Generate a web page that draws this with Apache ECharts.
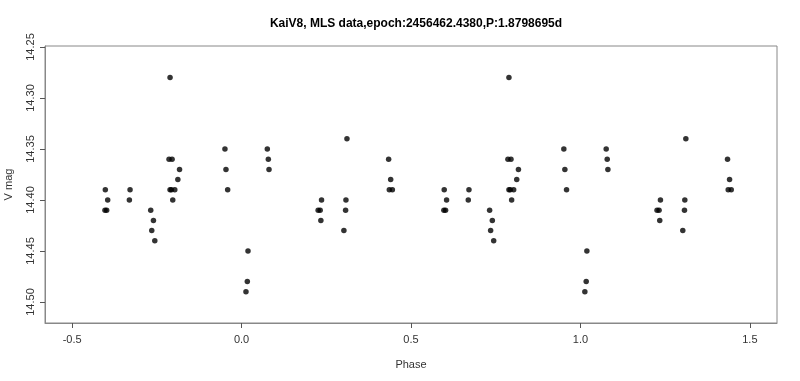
<!DOCTYPE html>
<html>
<head>
<meta charset="utf-8">
<script src="https://cdn.jsdelivr.net/npm/echarts@6/dist/echarts.min.js"></script>
<style>html,body{margin:0;padding:0;background:#fff}#c{width:800px;height:381px}</style>
</head>
<body>
<div id="c"></div>
<script>
var titleText = 'KaiV8, MLS data,epoch:2456462.4380,P:1.8798695d';
var xTicks = [-0.5, 0.0, 0.5, 1.0, 1.5];
var yTicks = [14.25, 14.30, 14.35, 14.40, 14.45, 14.50];

var phase = [
  -0.402, -0.395, -0.403, -0.398, -0.329, -0.331,
  -0.268, -0.260, -0.265, -0.256,
  -0.211, -0.214, -0.205, -0.183, -0.188, -0.211, -0.207, -0.197, -0.203,
  -0.049, -0.046, -0.041,
  0.019, 0.017, 0.013,
  0.076, 0.079, 0.081,
  0.236, 0.226, 0.232, 0.234,
  0.311, 0.308, 0.307, 0.302,
  0.434, 0.440, 0.436, 0.445,
  0.598, 0.605, 0.597, 0.602, 0.671, 0.669,
  0.732, 0.740, 0.735, 0.744,
  0.789, 0.786, 0.795, 0.817, 0.812, 0.789, 0.793, 0.803, 0.797,
  0.951, 0.954, 0.959,
  1.019, 1.017, 1.013,
  1.076, 1.079, 1.081,
  1.236, 1.226, 1.232, 1.234,
  1.311, 1.308, 1.307, 1.302,
  1.434, 1.440, 1.436, 1.445
];
var vmag = [
  14.39, 14.40, 14.41, 14.41, 14.39, 14.40,
  14.41, 14.42, 14.43, 14.44,
  14.28, 14.36, 14.36, 14.37, 14.38, 14.39, 14.39, 14.39, 14.40,
  14.35, 14.37, 14.39,
  14.45, 14.48, 14.49,
  14.35, 14.36, 14.37,
  14.40, 14.41, 14.41, 14.42,
  14.34, 14.40, 14.41, 14.43,
  14.36, 14.38, 14.39, 14.39,
  14.39, 14.40, 14.41, 14.41, 14.39, 14.40,
  14.41, 14.42, 14.43, 14.44,
  14.28, 14.36, 14.36, 14.37, 14.38, 14.39, 14.39, 14.39, 14.40,
  14.35, 14.37, 14.39,
  14.45, 14.48, 14.49,
  14.35, 14.36, 14.37,
  14.40, 14.41, 14.41, 14.42,
  14.34, 14.40, 14.41, 14.43,
  14.36, 14.38, 14.39, 14.39
];

var pts = phase.map(function (p, i) { return [p, vmag[i]]; });
var font = 'Liberation Sans, Arial, sans-serif';

var chart = echarts.init(document.getElementById('c'), null, {renderer: 'canvas'});
chart.setOption({
  animation: false,
  backgroundColor: '#ffffff',
  title: {
    text: titleText,
    left: 411, top: 13, textAlign: 'center',
    textStyle: {fontFamily: font, fontSize: 12, fontWeight: 'bold', color: '#000'}
  },
  grid: {
    left: 45, right: 23, top: 46, bottom: 58,
    containLabel: false, outerBoundsMode: 'none',
    show: true, borderColor: '#888', borderWidth: 1, backgroundColor: 'transparent'
  },
  xAxis: {
    type: 'value', min: -0.58, max: 1.58, position: 'bottom',
    name: 'Phase', nameLocation: 'middle', nameGap: 36,
    nameTextStyle: {fontFamily: font, fontSize: 11, color: '#333'},
    axisLine: {show: true, onZero: false, lineStyle: {color: '#888', width: 1}},
    splitLine: {show: false},
    axisTick: {show: true, inside: false, length: 5, customValues: xTicks, lineStyle: {color: '#555', width: 1}},
    axisLabel: {customValues: xTicks, margin: 11, fontFamily: font, fontSize: 11, color: '#333',
      formatter: function (v) { return v.toFixed(1); }}
  },
  yAxis: {
    type: 'value', inverse: true, min: 14.249, max: 14.5206, position: 'left',
    name: 'V mag', nameLocation: 'middle', nameGap: 31, nameRotate: 90,
    nameTextStyle: {fontFamily: font, fontSize: 11, color: '#333'},
    axisLine: {show: true, onZero: false, lineStyle: {color: '#888', width: 1}},
    splitLine: {show: false},
    axisTick: {show: true, inside: false, length: 5, customValues: yTicks, lineStyle: {color: '#555', width: 1}},
    axisLabel: {customValues: yTicks, rotate: 90, margin: 9, fontFamily: font, fontSize: 11, color: '#333',
      formatter: function (v) { return v.toFixed(2); }}
  },
  series: [{
    type: 'scatter',
    data: pts,
    symbol: 'circle',
    symbolSize: 5.5,
    itemStyle: {color: '#000'}
  }]
});
</script>
</body>
</html>
